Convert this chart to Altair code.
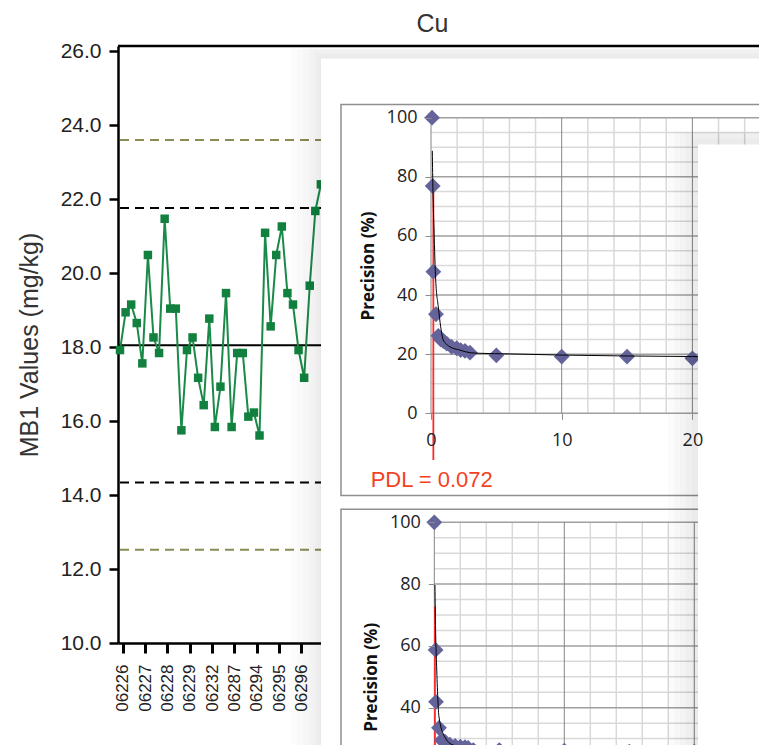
import altair as alt
import pandas as pd

# ---------------- data ----------------
# Control chart (MB1, Cu)
batch_labels = ["06226", "06227", "06228", "06229", "06232", "06287", "06294", "06295", "06296"]
batch_ticks = [0.5, 4.5, 8.5, 12.5, 16.5, 20.5, 24.5, 28.5, 32.5]
sample_index = [0, 1, 2, 3, 4, 5, 6, 7, 8, 9, 10, 11, 12, 13, 14, 15, 16, 17, 18,
                19, 20, 21, 22, 23, 24, 25, 26, 27, 28, 29, 30, 31, 32, 33, 34, 35, 36]
mb1_values = [17.92, 18.94, 19.15, 18.65, 17.56, 20.49, 18.26, 17.84, 21.47, 19.04,
              19.04, 15.75, 17.92, 18.26, 17.17, 16.43, 18.77, 15.84, 16.93, 19.46,
              15.84, 17.84, 17.84, 16.12, 16.23, 15.61, 21.09, 18.56, 20.49, 21.26,
              19.46, 19.15, 17.92, 17.17, 19.66, 21.68, 22.40]
mean_line = [18.05]
warning_lines = [21.76, 14.34]
control_lines = [23.60, 12.52]
mb1_ticks = [10, 12, 14, 16, 18, 20, 22, 24, 26]

# Precision plot 1
p1_conc = [0.08, 0.13, 0.18, 0.38, 0.56, 0.74, 0.94, 1.2, 1.58, 1.97, 2.27, 2.6, 2.98, 5.0, 10.0, 15.0, 20.0]
p1_prec = [100, 76.9, 47.9, 33.5, 26.2, 25.0, 24.4, 23.6, 22.5, 22.0, 21.4, 21.1, 20.5, 19.6, 19.2, 19.2, 18.6]
p1_fit_conc = [0.1, 0.15, 0.23, 0.36, 0.56, 0.74, 0.94, 1.45, 2.2, 2.98, 3.75, 6.0, 10.0, 15.0, 20.0, 22.0]
p1_fit_prec = [88.8, 75, 62, 45, 36, 29.3, 24.8, 22.5, 21.4, 20.5, 20.3, 20.1, 19.7, 19.4, 19.2, 19.1]
p1_pdl_x = [0.18]
p1_pdl_from = [-15.8]
p1_pdl_to = [75]
pdl_label = "PDL = 0.072"

# Precision plot 2
p2_conc = [0.0, 0.1, 0.13, 0.36, 0.57, 0.82, 1.2, 1.6, 2.0, 2.36, 2.6, 3.0, 5.0, 10.0, 15.0, 20.0]
p2_prec = [100, 58.7, 41.9, 33.5, 29.5, 29.0, 28.0, 27.6, 27.4, 27.2, 27.0, 26.3, 26.3, 26.1, 25.8, 25.8]
p2_fit_conc = [0.05, 0.1, 0.18, 0.36, 0.8, 1.45, 2.75, 5.0, 10.0, 15.0, 20.0, 22.0]
p2_fit_prec = [79.7, 65, 53.3, 37, 30.6, 27.9, 26.9, 26.2, 25.8, 25.6, 25.5, 25.5]
p2_pdl_x = [0.05]
p2_pdl_from = [-20]
p2_pdl_to = [72.7]

prec_ticks = [0, 20, 40, 60, 80, 100]
p2_visible_ticks = [40, 60, 80, 100]     # lower part of plot 2 lies below the page
conc_ticks = [0, 10, 20]
minor_conc = [2, 4, 6, 8, 12, 14, 16, 18, 22, 24, 26]
minor_prec = [5, 10, 15, 25, 30, 35, 45, 50, 55, 65, 70, 75, 85, 90, 95]

# ---------------- layout ----------------
W, H = 641, 597          # view (clipped at the page edge); control x range keeps 644 px
FONT = "Liberation Sans"
PFONT = "Open Sans"
dummy = pd.DataFrame({"k": [0]})


def ctrl_x():
    return alt.Scale(domain=[-0.36, 115.05], range=[0, 644], nice=False, zero=False)


def ctrl_y():
    return alt.Scale(domain=[10, 26.14], range=[H, 0], nice=False, zero=False)


ctrl_df = pd.DataFrame({"i": sample_index, "v": mb1_values})

labels_js = "[" + ",".join("'%s'" % b for b in batch_labels) + "]"
ticks_js = "[" + ",".join(str(t) for t in batch_ticks) + "]"

x_axis_ctrl = alt.Axis(
    orient="bottom", values=batch_ticks,
    labelExpr=f"{labels_js}[indexof({ticks_js}, datum.value)]",
    labelAngle=-90, labelFont=FONT, labelFontSize=17, labelColor="#222",
    labelPadding=11, labelFlush=False, labelOverlap=False,
    tickSize=10, tickWidth=3, tickColor="black",
    domainColor="black", domainWidth=2.5, title="", grid=False,
)
y_axis_ctrl = alt.Axis(
    orient="left", values=mb1_ticks, format=".1f",
    labelFont=FONT, labelFontSize=21, labelColor="#222", labelPadding=8,
    tickSize=9, tickWidth=2.5, tickColor="black",
    domainColor="black", domainWidth=2.5,
    title="MB1 Values (mg/kg)", titleFont=FONT, titleFontSize=25,
    titleFontWeight="normal", titleColor="#333", titlePadding=18, grid=False,
)

GREEN = "#12813f"
ctl_rule = alt.Chart(pd.DataFrame({"v": control_lines})).mark_rule(
    color="#8b8b55", strokeWidth=2, strokeDash=[9, 6]).encode(
    y=alt.Y("v:Q", scale=ctrl_y(), axis=None))
warn_rule = alt.Chart(pd.DataFrame({"v": warning_lines})).mark_rule(
    color="black", strokeWidth=2, strokeDash=[9, 6]).encode(
    y=alt.Y("v:Q", scale=ctrl_y(), axis=None))
mean_rule = alt.Chart(pd.DataFrame({"v": mean_line})).mark_rule(color="black", strokeWidth=2).encode(
    y=alt.Y("v:Q", scale=ctrl_y(), axis=None))
ctrl_line = alt.Chart(ctrl_df).mark_line(color="#1a8a48", strokeWidth=2).encode(
    x=alt.X("i:Q", scale=ctrl_x(), axis=x_axis_ctrl),
    y=alt.Y("v:Q", scale=ctrl_y(), axis=y_axis_ctrl),
)
ctrl_pts = alt.Chart(ctrl_df).mark_point(shape="square", filled=True, size=72, opacity=1, color=GREEN).encode(
    x=alt.X("i:Q", scale=ctrl_x(), axis=None),
    y=alt.Y("v:Q", scale=ctrl_y(), axis=None),
)

frame_top = alt.Chart(dummy).mark_rule(color="black", strokeWidth=2.5).encode(y=alt.value(0))


def box(x1, y1, x2, y2, **style):
    return alt.Chart(dummy).mark_rect(**style).encode(
        x=alt.value(x1), x2=alt.value(x2), y=alt.value(y1), y2=alt.value(y2))


# main floating panel (with soft shadow)
PX, PY = 203, 12.5
panel = [box(PX - d, PY - min(d, 10), 760, 800, fill="black", opacity=0.013) for d in (30, 24, 18, 12, 8, 5, 2)]
panel.append(box(PX, PY, 760, 800, fill="white"))
panel.append(box(223, 58.5, 760, 449.5, fill="white", stroke="#8f8f8f", strokeWidth=1.5))
panel.append(box(223, 463.3, 760, 800, fill="white", stroke="#8f8f8f", strokeWidth=1.5))


def precision_plot(conc, prec, fit_c, fit_p, pdl_x, pdl_from, pdl_to, xr, yr, show_x_axis, y_ticks):
    def sx():
        return alt.Scale(domain=[0, 26], range=xr, nice=False, zero=False)

    def sy():
        return alt.Scale(domain=[0, 100], range=yr, nice=False, zero=False)

    x_off = yr[0] - H
    y_off = -xr[0]
    xa = alt.Axis(orient="bottom", offset=x_off, values=conc_ticks, domain=False,
                  tickSize=6, tickColor="#8c8c8c", tickWidth=1,
                  labelFont=PFONT, labelFontSize=18, labelColor="#222", labelPadding=12,
                  labelFlush=False, labelOverlap=False, title="", grid=False, zindex=1)
    ya = alt.Axis(orient="left", offset=y_off, values=y_ticks, domain=False,
                  tickSize=6, tickColor="#8c8c8c", tickWidth=1,
                  labelFont=PFONT, labelFontSize=18, labelColor="#222", labelPadding=8,
                  labelFlush=False, labelOverlap=False,
                  title="Precision (%)", titleFont=PFONT, titleFontSize=17,
                  titleFontWeight="bold", titleColor="#111", titlePadding=9,
                  grid=False, zindex=1)
    vminor = alt.Chart(pd.DataFrame({"g": minor_conc})).mark_rule(color="#d9d9d9", strokeWidth=1.5).encode(
        x=alt.X("g:Q", scale=sx(), axis=None),
        y=alt.YDatum(0, scale=sy(), axis=None), y2=alt.Y2Datum(100))
    hminor = alt.Chart(pd.DataFrame({"g": minor_prec})).mark_rule(color="#d9d9d9", strokeWidth=1.5).encode(
        y=alt.Y("g:Q", scale=sy(), axis=None),
        x=alt.XDatum(0, scale=sx(), axis=None), x2=alt.X2Datum(26))
    hmajor = alt.Chart(pd.DataFrame({"g": prec_ticks})).mark_rule(color="#a0a0a0", strokeWidth=1.5).encode(
        y=alt.Y("g:Q", scale=sy(), axis=None),
        x=alt.XDatum(0, scale=sx(), axis=None), x2=alt.X2Datum(26))
    vmajor = alt.Chart(pd.DataFrame({"g": conc_ticks})).mark_rule(color="#858585", strokeWidth=1).encode(
        x=alt.X("g:Q", scale=sx(), axis=None),
        y=alt.YDatum(0, scale=sy(), axis=None), y2=alt.Y2Datum(100))
    red = alt.Chart(pd.DataFrame({"x": pdl_x, "a": pdl_from, "b": pdl_to})).mark_rule(
        color="#ff2a2a", strokeWidth=1.8).encode(
        x=alt.X("x:Q", scale=sx(), axis=None),
        y=alt.Y("a:Q", scale=sy(), axis=None), y2="b:Q")
    pts = alt.Chart(pd.DataFrame({"c": conc, "p": prec})).mark_point(
        shape="diamond", filled=True, size=250, opacity=1, color="#64649b").encode(
        x=alt.X("c:Q", scale=sx(), axis=xa if show_x_axis else None),
        y=alt.Y("p:Q", scale=sy(), axis=ya))
    fit = alt.Chart(pd.DataFrame({"c": fit_c, "p": fit_p})).mark_line(
        color="black", strokeWidth=1, interpolate="monotone").encode(
        x=alt.X("c:Q", scale=sx(), axis=None),
        y=alt.Y("p:Q", scale=sy(), axis=None))
    return [vminor, hminor, hmajor, vmajor, red, pts, fit]


p1 = precision_plot(p1_conc, p1_prec, p1_fit_conc, p1_fit_prec, p1_pdl_x, p1_pdl_from, p1_pdl_to,
                    [313, 652.8], [367.3, 71.7], True, prec_ticks)
# second plot continues below the visible page, so its x axis is out of view
p2 = precision_plot(p2_conc, p2_prec, p2_fit_conc, p2_fit_prec, p2_pdl_x, p2_pdl_from, p2_pdl_to,
                    [316.3, 654.3], [785.3, 476.3], False, p2_visible_ticks)

pdl_text = alt.Chart(dummy).mark_text(
    text=pdl_label, align="left", baseline="middle", font=FONT, fontSize=22, color="#f4421e"
).encode(x=alt.value(252.7), y=alt.value(434))

# right floating panel (with soft shadow)
RX, RY = 580, 98.5
right_panel = [box(RX - d, RY - min(d, 12), 760, 800, fill="black", opacity=0.015) for d in (30, 24, 18, 12, 6)]
right_panel.append(box(RX, RY, 760, 800, fill="white"))

layers = ([ctl_rule, warn_rule, mean_rule, ctrl_line, ctrl_pts, frame_top]
          + panel + p1 + [pdl_text] + p2 + right_panel)

chart = alt.layer(*layers).resolve_scale(x="independent", y="independent").properties(
    width=W, height=H,
    autosize="none",
    padding={"left": 110, "top": 38, "right": 0, "bottom": 102},
    title=alt.Title("Cu", font=FONT, fontSize=25, fontWeight="normal", color="#333",
                    offset=3, dx=-6),
).configure_view(strokeWidth=0).configure(background="white")

chart.save("out.html", embed_options={"renderer": "svg", "actions": False})
